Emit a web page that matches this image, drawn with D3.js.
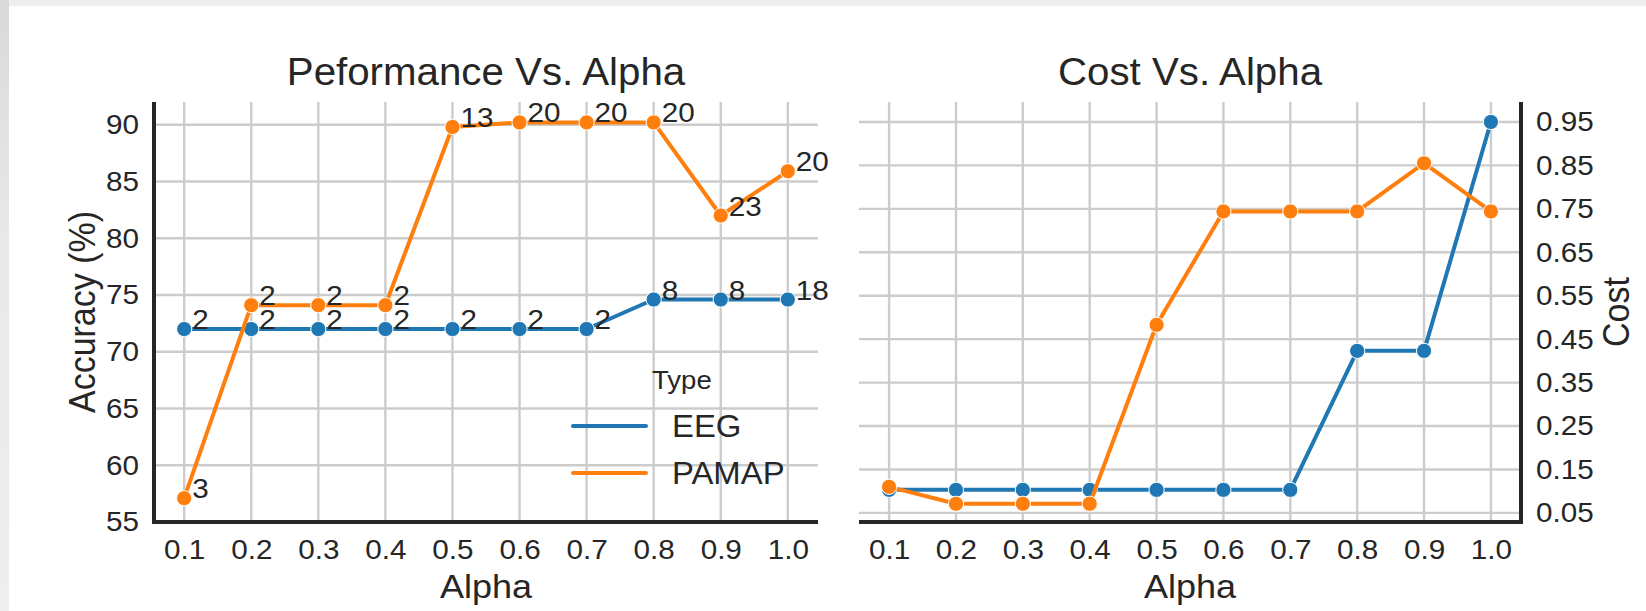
<!DOCTYPE html>
<html>
<head>
<meta charset="utf-8">
<script src="https://cdn.jsdelivr.net/npm/d3@7"></script>
<style>
    body { margin: 0; background: #ececec; }
    svg { display: block; font-family: "Liberation Sans", Arial, sans-serif; }
</style>
</head>
<body>
<svg id="chart"></svg>
<script>
// Data
const alphas = [0.1, 0.2, 0.3, 0.4, 0.5, 0.6, 0.7, 0.8, 0.9, 1.0];
const alphaTicks = ["0.1", "0.2", "0.3", "0.4", "0.5", "0.6", "0.7", "0.8", "0.9", "1.0"];
const types = ["EEG", "PAMAP"];

const eegAccuracy = [72.0, 72.0, 72.0, 72.0, 72.0, 72.0, 72.0, 74.6, 74.6, 74.6];
const pamapAccuracy = [57.1, 74.1, 74.1, 74.1, 89.8, 90.2, 90.2, 90.2, 82.0, 85.9];
const eegLabels = [2, 2, 2, 2, 2, 2, 2, 8, 8, 18];
const pamapLabels = [3, 2, 2, 2, 13, 20, 20, 20, 23, 20];

const eegCost = [0.103, 0.103, 0.103, 0.103, 0.103, 0.103, 0.103, 0.423, 0.423, 0.95];
const pamapCost = [0.11, 0.071, 0.071, 0.071, 0.483, 0.744, 0.744, 0.744, 0.855, 0.744];

const accuracyTicks = [55, 60, 65, 70, 75, 80, 85, 90];
const costTicks = [0.05, 0.15, 0.25, 0.35, 0.45, 0.55, 0.65, 0.75, 0.85, 0.95];

const width = 1646, height = 611;
const ink = "#262626";
const grid = "#cccccc";
const stretch = 1.06;   // the source figure is a bit wider than tall
const color = d3.scaleOrdinal().domain(types).range(["#1f77b4", "#ff7f0e"]);

const svg = d3.select("#chart").attr("width", width).attr("height", height);

// widen a text horizontally around its own x
function widen(sel) {
    sel.each(function () {
        const t = d3.select(this);
        const x = +t.attr("x") || 0;
        t.attr("transform", `translate(${x * (1 - stretch)},0) scale(${stretch},1)`);
    });
}

// page background: grey strip left and top, white card
const bg = svg.append("defs").append("linearGradient").attr("id", "edge")
    .attr("x1", 0).attr("y1", 0).attr("x2", 0).attr("y2", 1);
bg.append("stop").attr("offset", "0%").attr("stop-color", "#d9d9d9");
bg.append("stop").attr("offset", "40%").attr("stop-color", "#e9e9e9");
bg.append("stop").attr("offset", "100%").attr("stop-color", "#eeeeee");
svg.append("rect").attr("width", width).attr("height", height).attr("fill", "#eeeeee");
svg.append("rect").attr("width", 9).attr("height", height).attr("fill", "url(#edge)");
svg.append("rect").attr("x", 9).attr("y", 6).attr("width", width - 9).attr("height", height - 6).attr("fill", "white");

function drawPanel(opts) {
    const { left, right, top, bottom, yDomain, yTicks, yFormat, series, title, yLabel, side } = opts;

    const x = d3.scaleLinear().domain([0.055, 1.045]).range([left, right]);
    const y = d3.scaleLinear().domain(yDomain).range([bottom, top]);
    const g = svg.append("g");

    // grid
    g.append("g").selectAll("line").data(alphas).enter().append("line")
        .attr("x1", d => x(d)).attr("x2", d => x(d))
        .attr("y1", top).attr("y2", bottom)
        .attr("stroke", grid).attr("stroke-width", 2.4);
    g.append("g").selectAll("line").data(yTicks).enter().append("line")
        .attr("x1", left).attr("x2", right)
        .attr("y1", d => y(d)).attr("y2", d => y(d))
        .attr("stroke", grid).attr("stroke-width", 2.4);

    // axes via d3, ticks hidden, domain path replaced by spines
    const xAxis = g.append("g").attr("transform", `translate(0,${bottom})`)
        .call(d3.axisBottom(x).tickValues(alphas).tickFormat((d, i) => alphaTicks[i]).tickSize(0).tickPadding(17));
    const yAxis = g.append("g")
        .attr("transform", `translate(${side === "left" ? left : right},0)`)
        .call((side === "left" ? d3.axisLeft(y) : d3.axisRight(y))
            .tickValues(yTicks).tickFormat(yFormat).tickSize(0).tickPadding(15));
    [xAxis, yAxis].forEach(a => {
        a.select(".domain").remove();
        a.selectAll("text").attr("fill", ink).style("font-size", "28px").attr("font-family", null).call(widen);
    });

    // lines and markers
    const line = d3.line().x((d, i) => x(alphas[i])).y(d => y(d));
    series.forEach(s => {
        g.append("path").datum(s.values)
            .attr("d", line).attr("fill", "none")
            .attr("stroke", color(s.type)).attr("stroke-width", 4)
            .attr("stroke-linejoin", "round").attr("stroke-linecap", "round");
        g.append("g").selectAll("circle").data(s.values).enter().append("circle")
            .attr("cx", (d, i) => x(alphas[i])).attr("cy", d => y(d)).attr("r", 7.6)
            .attr("fill", color(s.type)).attr("stroke", "white").attr("stroke-width", 1);
    });

    // point labels
    series.filter(s => s.labels).forEach(s => {
        g.append("g").selectAll("text").data(s.values).enter().append("text")
            .attr("x", (d, i) => x(alphas[i]) + 8).attr("y", d => y(d))
            .attr("fill", ink).style("font-size", "28px")
            .text((d, i) => s.labels[i])
            .call(widen);
    });

    // spines
    const spineX = side === "left" ? left : right;
    g.append("line").attr("x1", spineX).attr("x2", spineX).attr("y1", top).attr("y2", bottom + 2)
        .attr("stroke", ink).attr("stroke-width", 4);
    g.append("line").attr("x1", left - (side === "left" ? 2 : 0)).attr("x2", right + (side === "left" ? 0 : 2))
        .attr("y1", bottom).attr("y2", bottom)
        .attr("stroke", ink).attr("stroke-width", 4);

    // titles
    g.append("text").attr("x", (left + right) / 2).attr("y", 85)
        .attr("text-anchor", "middle").attr("fill", ink).style("font-size", "38px").text(title)
        .call(widen);
    g.append("text").attr("x", (left + right) / 2).attr("y", 598)
        .attr("text-anchor", "middle").attr("fill", ink).style("font-size", "34px").text("Alpha")
        .call(widen);
    const labelX = side === "left" ? 95 : 1629;
    g.append("text").attr("transform", `translate(${labelX},${(top + bottom) / 2}) rotate(-90) scale(1,${stretch})`)
        .attr("text-anchor", "middle").attr("fill", ink).style("font-size", "34px").text(yLabel);

    return g;
}

const perf = drawPanel({
    left: 154, right: 818, top: 102, bottom: 522,
    yDomain: [55, 92], yTicks: accuracyTicks, yFormat: d3.format("d"),
    series: [
        { type: "EEG", values: eegAccuracy, labels: eegLabels },
        { type: "PAMAP", values: pamapAccuracy, labels: pamapLabels }
    ],
    title: "Peformance Vs. Alpha", yLabel: "Accuracy (%)", side: "left"
});

drawPanel({
    left: 859, right: 1521, top: 102, bottom: 522,
    yDomain: [0.029, 0.996], yTicks: costTicks, yFormat: d3.format(".2f"),
    series: [
        { type: "EEG", values: eegCost },
        { type: "PAMAP", values: pamapCost }
    ],
    title: "Cost Vs. Alpha", yLabel: "Cost", side: "right"
});

// Legend in the left panel
const legend = perf.append("g").attr("transform", "translate(573, 0)");
legend.append("text").attr("x", 79).attr("y", 389)
    .attr("fill", ink).style("font-size", "26px").text("Type").call(widen);
const items = legend.selectAll(".legend-item").data(types).enter().append("g")
    .attr("class", "legend-item")
    .attr("transform", (d, i) => `translate(0, ${426 + i * 47})`);
items.append("line").attr("x1", 0).attr("x2", 73)
    .attr("stroke", d => color(d)).attr("stroke-width", 4).attr("stroke-linecap", "round");
items.append("text").attr("x", 99).attr("y", 11)
    .attr("fill", ink).style("font-size", "31px").text(d => d).call(widen);
</script>
</body>
</html>
